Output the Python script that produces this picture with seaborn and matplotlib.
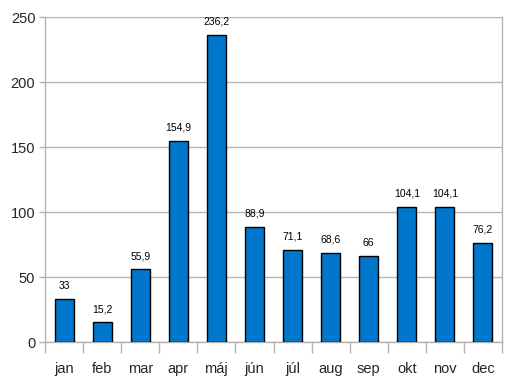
import numpy as np
import pandas as pd
import matplotlib
matplotlib.use("Agg")
import matplotlib.pyplot as plt
import seaborn as sns

# Monthly values
months = ["jan", "feb", "mar", "apr", "máj", "jún", "júl", "aug", "sep", "okt", "nov", "dec"]
values = [33, 15.2, 55.9, 154.9, 236.2, 88.9, 71.1, 68.6, 66, 104.1, 104.1, 76.2]
value_labels = ["33", "15,2", "55,9", "154,9", "236,2", "88,9", "71,1", "68,6", "66", "104,1", "104,1", "76,2"]
y_ticks = [0, 50, 100, 150, 200, 250]

sns.set_theme(style="white")
plt.rcParams["font.family"] = ["Liberation Sans", "DejaVu Sans"]

df = pd.DataFrame({"month": months, "value": values})

fig = plt.figure(figsize=(5.12, 3.84), dpi=100)
ax = fig.add_axes([0.0879, 0.109, 0.8926, 0.8467])

sns.barplot(data=df, x="month", y="value", ax=ax, color="#0077cc",
            saturation=1, width=0.5, edgecolor="black", linewidth=1, zorder=3)

grid_col = "#b3b3b3"
ax.set_ylim(0, 250)
ax.set_xlim(-0.5, len(months) - 0.5)
ax.set_yticks(y_ticks)
ax.set_yticklabels([str(t) for t in y_ticks], fontsize=10.5)
ax.yaxis.grid(True, color=grid_col, linewidth=1, zorder=0)
ax.set_xlabel("")
ax.set_ylabel("")

# category labels centered, tick marks on boundaries
ax.set_xticks(range(len(months)))
ax.set_xticklabels(months, fontsize=10.5)
ax.set_xticks(np.arange(-0.5, len(months), 1), minor=True)
ax.tick_params(axis="x", which="major", length=0, pad=14)
ax.tick_params(axis="x", which="minor", length=8, color=grid_col, width=1, bottom=True)
ax.tick_params(axis="y", which="major", length=4, color=grid_col, width=1, left=True, pad=3)

for side in ["left", "right", "bottom"]:
    ax.spines[side].set_color(grid_col)
    ax.spines[side].set_linewidth(1)
ax.spines["top"].set_visible(False)

for i, (v, lab) in enumerate(zip(values, value_labels)):
    ax.annotate(lab, (i, v), xytext=(0, 6), textcoords="offset points",
                ha="center", va="bottom", fontsize=7.5, color="black")

fig.savefig("out.png", dpi=100)
